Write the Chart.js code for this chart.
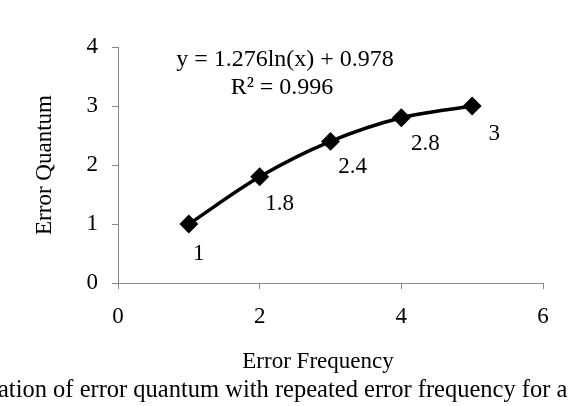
<!DOCTYPE html>
<html>
<head>
<meta charset="utf-8">
<script src="https://cdn.jsdelivr.net/npm/chart.js@4"></script>
<style>
  body { margin: 0; background: #fff; }
  #wrap { width: 580px; height: 406px; }
</style>
</head>
<body>
<div id="wrap"><canvas id="c"></canvas></div>
<script>
const frequency = [1, 2, 3, 4, 5];
const quantum = [1, 1.8, 2.4, 2.8, 3];
const pointLabels = ['1', '1.8', '2.4', '2.8', '3'];
const labelOffsets = [[10, 30], [20, 27], [22, 26], [24, 26], [22, 28]];

const serif = '"Liberation Serif", "Times New Roman", serif';

const textPlugin = {
    id: 'texts',
    afterDraw(chart) {
        let ctx = chart.ctx;
        let meta = chart.getDatasetMeta(0);
        ctx.save();
        ctx.fillStyle = '#000';
        ctx.textAlign = 'center';
        ctx.textBaseline = 'middle';
        ctx.font = '23px ' + serif;
        meta.data.forEach((pt, i) => {
            ctx.fillText(pointLabels[i], pt.x + labelOffsets[i][0], pt.y + labelOffsets[i][1]);
        });
        ctx.font = '24px ' + serif;
        ctx.fillText('y = 1.276ln(x) + 0.978', 285, 60);
        ctx.fillText('R² = 0.996', 282, 88);
        ctx.font = '23px ' + serif;
        ctx.fillText('Error Frequency', 318, 362);
        ctx.save();
        ctx.translate(45, 165);
        ctx.rotate(-Math.PI / 2);
        ctx.fillText('Error Quantum', 0, 0);
        ctx.restore();
        ctx.font = '24.5px ' + serif;
        ctx.textAlign = 'left';
        ctx.fillText('ation of error quantum with repeated error frequency for a', -2, 391);
        ctx.restore();
    }
};

new Chart(document.getElementById('c').getContext('2d'), {
    type: 'line',
    data: {
        datasets: [{
            data: frequency.map((x, i) => ({x: x, y: quantum[i]})),
            borderColor: '#000',
            backgroundColor: '#000',
            borderWidth: 3.5,
            cubicInterpolationMode: 'monotone',
            pointStyle: 'rectRot',
            pointRadius: 7,
            pointHoverRadius: 7
        }]
    },
    options: {
        responsive: true,
        maintainAspectRatio: false,
        animation: false,
        layout: { padding: { top: 47, right: 37, left: 0, bottom: 0 } },
        plugins: { legend: { display: false }, tooltip: { enabled: false } },
        scales: {
            x: {
                type: 'linear',
                min: 0, max: 6,
                ticks: { stepSize: 2, color: '#000', font: { family: serif, size: 23 }, padding: 14 },
                grid: { drawOnChartArea: false, tickLength: 6, color: '#888' },
                border: { color: '#888' },
                afterFit(scale) { scale.height = 123; }
            },
            y: {
                min: 0, max: 4,
                ticks: { stepSize: 1, color: '#000', font: { family: serif, size: 23 }, padding: 14 },
                grid: { drawOnChartArea: false, tickLength: 6, color: '#888' },
                border: { color: '#888' },
                afterFit(scale) { scale.width = 118; }
            }
        }
    },
    plugins: [textPlugin]
});
</script>
</body>
</html>
